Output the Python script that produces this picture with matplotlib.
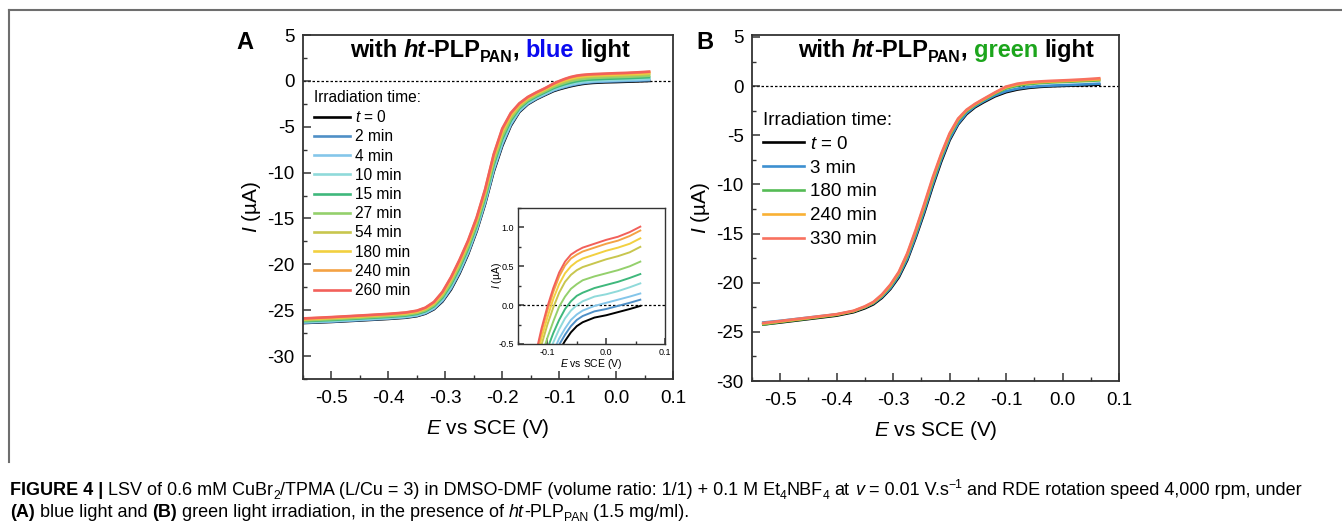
import matplotlib
matplotlib.use('Agg')
import matplotlib.pyplot as plt
from matplotlib.transforms import IdentityTransform
from matplotlib.lines import Line2D
from matplotlib.ticker import MultipleLocator
from matplotlib import font_manager

plt.rcParams['font.family'] = ['Liberation Sans', 'DejaVu Sans']
plt.rcParams['mathtext.fontset'] = 'custom'
plt.rcParams['mathtext.rm'] = 'Liberation Sans'
plt.rcParams['mathtext.it'] = 'Liberation Sans:italic'
plt.rcParams['mathtext.bf'] = 'Liberation Sans:bold'
plt.rcParams['axes.unicode_minus'] = False

# ---- panel A: blue light ----
E_A = [-0.55, -0.50, -0.45, -0.40, -0.37, -0.35, -0.335, -0.32, -0.305, -0.29, -0.275, -0.26,
       -0.245, -0.23, -0.215, -0.20, -0.185, -0.17, -0.155, -0.14, -0.125, -0.11, -0.10, -0.09,
       -0.08, -0.07, -0.06, -0.05, -0.04, -0.02, 0.00, 0.02, 0.04, 0.058]
labels_A = ['$t$ = 0', '2 min', '4 min', '10 min', '15 min', '27 min', '54 min',
            '180 min', '240 min', '260 min']
colors_A = ['#000000', '#4f8fc6', '#84c6ea', '#8fdada', '#3fb87c', '#94d06c', '#c8c64e',
            '#f2d040', '#f4a244', '#f2605a']
I_t0 = [-26.40, -26.28, -26.12, -25.95, -25.82, -25.65, -25.38, -24.90, -24.05, -22.75, -21.00, -18.90,
        -16.40, -13.40, -9.90, -7.10, -4.90, -3.40, -2.55, -2.00, -1.55, -1.12, -0.92, -0.75,
        -0.59, -0.46, -0.35, -0.27, -0.22, -0.16, -0.13, -0.09, -0.05, -0.01]
I_2 = [-26.36, -26.24, -26.08, -25.91, -25.77, -25.60, -25.33, -24.84, -23.97, -22.64, -20.88, -18.78,
       -16.28, -13.27, -9.75, -6.95, -4.79, -3.32, -2.49, -1.94, -1.49, -1.05, -0.85, -0.67,
       -0.51, -0.38, -0.27, -0.19, -0.14, -0.08, -0.05, -0.01, 0.03, 0.07]
I_4 = [-26.32, -26.20, -26.03, -25.86, -25.73, -25.55, -25.27, -24.77, -23.88, -22.53, -20.76, -18.66,
       -16.16, -13.14, -9.60, -6.80, -4.68, -3.25, -2.42, -1.88, -1.43, -0.99, -0.78, -0.60,
       -0.43, -0.30, -0.19, -0.12, -0.07, -0.01, 0.03, 0.07, 0.11, 0.15]
I_10 = [-26.26, -26.13, -25.97, -25.80, -25.66, -25.48, -25.20, -24.68, -23.76, -22.37, -20.58, -18.48,
        -15.98, -12.95, -9.37, -6.57, -4.51, -3.13, -2.33, -1.79, -1.34, -0.89, -0.67, -0.48,
        -0.31, -0.17, -0.07, 0.00, 0.05, 0.11, 0.14, 0.18, 0.23, 0.28]
I_15 = [-26.20, -26.07, -25.90, -25.73, -25.59, -25.41, -25.12, -24.58, -23.63, -22.21, -20.40, -18.30,
        -15.80, -12.76, -9.14, -6.34, -4.34, -3.02, -2.23, -1.70, -1.25, -0.79, -0.56, -0.36,
        -0.19, -0.05, 0.05, 0.12, 0.16, 0.22, 0.26, 0.30, 0.35, 0.40]
I_27 = [-26.12, -25.98, -25.82, -25.64, -25.50, -25.31, -25.01, -24.45, -23.46, -21.99, -20.16, -18.06,
        -15.56, -12.50, -8.84, -6.04, -4.12, -2.87, -2.10, -1.58, -1.13, -0.66, -0.42, -0.21,
        -0.02, 0.11, 0.21, 0.27, 0.32, 0.37, 0.41, 0.45, 0.50, 0.56]
I_54 = [-26.03, -25.89, -25.72, -25.54, -25.40, -25.21, -24.89, -24.31, -23.27, -21.75, -19.89, -17.79,
        -15.29, -12.22, -8.49, -5.69, -3.86, -2.70, -1.96, -1.45, -0.99, -0.51, -0.25, -0.03,
        0.16, 0.30, 0.39, 0.45, 0.49, 0.54, 0.59, 0.63, 0.68, 0.75]
I_180 = [-25.98, -25.83, -25.66, -25.48, -25.34, -25.14, -24.82, -24.22, -23.16, -21.60, -19.73, -17.63,
         -15.13, -12.04, -8.29, -5.49, -3.71, -2.59, -1.87, -1.36, -0.91, -0.42, -0.16, 0.08,
         0.27, 0.41, 0.50, 0.56, 0.60, 0.65, 0.70, 0.74, 0.79, 0.86]
I_240 = [-25.93, -25.78, -25.61, -25.43, -25.28, -25.08, -24.75, -24.14, -23.05, -21.47, -19.58, -17.48,
         -14.98, -11.88, -8.10, -5.30, -3.57, -2.50, -1.79, -1.29, -0.84, -0.34, -0.07, 0.17,
         0.37, 0.51, 0.60, 0.65, 0.69, 0.74, 0.79, 0.83, 0.89, 0.96]
I_260 = [-25.90, -25.75, -25.58, -25.40, -25.25, -25.05, -24.72, -24.10, -23.00, -21.40, -19.50, -17.40,
         -14.90, -11.80, -8.00, -5.20, -3.50, -2.45, -1.75, -1.25, -0.80, -0.30, -0.02, 0.22,
         0.42, 0.56, 0.65, 0.70, 0.74, 0.79, 0.84, 0.88, 0.94, 1.01]
curves_A = [I_t0, I_2, I_4, I_10, I_15, I_27, I_54, I_180, I_240, I_260]

# ---- panel B: green light ----
E_B = [-0.53, -0.50, -0.45, -0.40, -0.37, -0.35, -0.335, -0.32, -0.305, -0.29, -0.275, -0.26,
       -0.245, -0.23, -0.215, -0.20, -0.185, -0.17, -0.155, -0.14, -0.12, -0.10, -0.08, -0.06,
       -0.04, -0.02, 0.01, 0.04, 0.065]
labels_B = ['$t$ = 0', '3 min', '180 min', '240 min', '330 min']
colors_B = ['#000000', '#3d8fd0', '#55bb55', '#f9b134', '#f8715f']
J_t0 = [-24.25, -24.05, -23.70, -23.35, -23.00, -22.60, -22.20, -21.55, -20.65, -19.45, -17.70, -15.40,
        -12.90, -10.20, -7.70, -5.50, -3.90, -2.85, -2.15, -1.65, -1.05, -0.62, -0.35, -0.18,
        -0.08, -0.02, 0.04, 0.09, 0.15]
J_3 = [-24.05, -23.88, -23.55, -23.22, -22.90, -22.50, -22.10, -21.45, -20.55, -19.30, -17.55, -15.25,
       -12.70, -10.00, -7.50, -5.35, -3.80, -2.75, -2.05, -1.55, -0.95, -0.52, -0.26, -0.10,
       -0.01, 0.05, 0.11, 0.18, 0.25]
J_180 = [-24.25, -24.00, -23.65, -23.28, -22.92, -22.48, -22.05, -21.35, -20.38, -19.10, -17.25, -14.90,
         -12.35, -9.65, -7.20, -5.05, -3.50, -2.55, -1.92, -1.42, -0.78, -0.25, 0.04, 0.20,
         0.30, 0.37, 0.44, 0.51, 0.58]
J_240 = [-24.15, -23.95, -23.60, -23.24, -22.88, -22.44, -22.00, -21.28, -20.28, -18.98, -17.10, -14.72,
         -12.15, -9.45, -7.02, -4.90, -3.38, -2.46, -1.85, -1.35, -0.70, -0.13, 0.16, 0.31,
         0.40, 0.46, 0.53, 0.61, 0.68]
J_330 = [-24.10, -23.90, -23.55, -23.20, -22.85, -22.40, -21.95, -21.20, -20.20, -18.90, -17.00, -14.60,
         -12.00, -9.30, -6.90, -4.80, -3.30, -2.40, -1.80, -1.30, -0.65, -0.05, 0.25, 0.40,
         0.48, 0.54, 0.61, 0.70, 0.80]
curves_B = [J_t0, J_3, J_180, J_240, J_330]

W, H = 1342, 527
fig = plt.figure(figsize=(W / 100, H / 100), dpi=100)


def px_axes(x0, y0, x1, y1):
    # pixel box (top-left origin) -> figure fraction rect
    return [x0 / W, 1 - y1 / H, (x1 - x0) / W, (y1 - y0) / H]


def style_axes(ax, major, minor, lsize, major_len=6, minor_len=3, xpad=8, ypad=6):
    for s in ax.spines.values():
        s.set_color('#333333')
        s.set_linewidth(1.3)
    ax.tick_params(which='both', direction='in', top=False, right=False, colors='#333333',
                   labelcolor='black', labelsize=lsize)
    ax.tick_params(which='major', length=major_len, width=1.1)
    ax.tick_params(which='minor', length=minor_len, width=1.0)
    ax.tick_params(axis='x', which='major', pad=xpad)
    ax.tick_params(axis='y', which='major', pad=ypad)
    ax.xaxis.set_major_locator(MultipleLocator(major[0]))
    ax.xaxis.set_minor_locator(MultipleLocator(minor[0]))
    ax.yaxis.set_major_locator(MultipleLocator(major[1]))
    ax.yaxis.set_minor_locator(MultipleLocator(minor[1]))


axA = fig.add_axes(px_axes(303, 35, 673, 379))
axB = fig.add_axes(px_axes(752, 35, 1119, 381))
axI = fig.add_axes(px_axes(518, 208, 665, 344))

for vals, c, lab in zip(curves_A, colors_A, labels_A):
    axA.plot(E_A, vals, color=c, lw=1.9, label=lab)
    axI.plot(E_A, vals, color=c, lw=1.4)
for vals, c, lab in zip(curves_B, colors_B, labels_B):
    axB.plot(E_B, vals, color=c, lw=1.9, label=lab)

for ax in (axA, axB, axI):
    ax.axhline(0, color='black', lw=0.9, ls=(0, (2, 1.6)), zorder=0)

axA.set_xlim(-0.55, 0.1)
axA.set_ylim(-32.5, 5)
axB.set_xlim(-0.55, 0.1)
axB.set_ylim(-30, 5.2)
axI.set_xlim(-0.15, 0.1)
axI.set_ylim(-0.5, 1.25)

style_axes(axA, (0.1, 5), (0.05, 2.5), 13.5)
style_axes(axB, (0.1, 5), (0.05, 2.5), 13.5)
style_axes(axI, (0.1, 0.5), (0.05, 0.25), 6.5, major_len=4, minor_len=2, xpad=3, ypad=3)
for s in axI.spines.values():
    s.set_linewidth(1.0)

for ax in (axA, axB):
    ax.set_xlabel('$\\mathit{E}$ vs SCE (V)', fontsize=15, labelpad=7)
    ax.set_ylabel('$\\mathit{I}$ (µA)', fontsize=15)
axA.yaxis.set_label_coords(-0.108, 0.5)
axB.yaxis.set_label_coords(-0.11, 0.5)
axI.set_xlabel('$\\mathit{E}$ vs SCE (V)', fontsize=7.5, labelpad=0)
axI.set_ylabel('$\\mathit{I}$ (µA)', fontsize=7.5, labelpad=-4)

legA = axA.legend(title='Irradiation time:', loc='upper left', bbox_to_anchor=(0.03, 0.84),
                  frameon=False, fontsize=11.2, title_fontsize=11.2, handlelength=2.3,
                  handletextpad=0.3, labelspacing=0.27, borderpad=0, borderaxespad=0,
                  alignment='left')
legB = axB.legend(title='Irradiation time:', loc='upper left', bbox_to_anchor=(0.03, 0.778),
                  frameon=False, fontsize=13.5, title_fontsize=13.5, handlelength=2.2,
                  handletextpad=0.3, labelspacing=0.36, borderpad=0, borderaxespad=0,
                  alignment='left')

renderer = fig.canvas.get_renderer()


def rich(x, y, parts, size, family):
    # draw text pieces side by side on one baseline (pixel coords, origin bottom-left)
    em = size * fig.dpi / 72
    sp = 0.278 * em
    arts = []
    for text, flags, color in parts:
        small = '_' in flags or '^' in flags
        dy = -0.2 * em if '_' in flags else (0.38 * em if '^' in flags else 0)
        lead = len(text) - len(text.lstrip(' '))
        trail = len(text) - len(text.rstrip(' '))
        x += lead * sp
        t = fig.text(x, y + dy, text.strip(' '), transform=IdentityTransform(),
                     ha='left', va='baseline', fontsize=size * 0.68 if small else size,
                     family=family, color=color,
                     fontweight='bold' if 'b' in flags else 'normal',
                     fontstyle='italic' if 'i' in flags else 'normal')
        x = t.get_window_extent(renderer).x1 + trail * sp
        arts.append(t)
    return arts, x


title_A = [('with ', 'b', 'k'), ('ht', 'bi', 'k'), ('-PLP', 'b', 'k'), ('PAN', 'b_', 'k'),
           (', ', 'b', 'k'), ('blue', 'b', '#0a0af0'), (' light', 'b', 'k')]
title_B = [('with ', 'b', 'k'), ('ht', 'bi', 'k'), ('-PLP', 'b', 'k'), ('PAN', 'b_', 'k'),
           (', ', 'b', 'k'), ('green', 'b', '#1ca51c'), (' light', 'b', 'k')]
rich(350, H - 57, title_A, 17, 'Liberation Sans')
rich(798, H - 57, title_B, 17, 'Liberation Sans')

fig.text(245, H - 49, 'A', transform=IdentityTransform(), ha='center', va='baseline',
         fontsize=17, fontweight='bold')
fig.text(705, H - 49, 'B', transform=IdentityTransform(), ha='center', va='baseline',
         fontsize=17, fontweight='bold')

# frame lines around the figure panel
fig.add_artist(Line2D([9, W], [H - 10, H - 10], transform=IdentityTransform(), color='#6e6e6e', lw=1.5))
fig.add_artist(Line2D([9, 9], [H - 10, H - 462], transform=IdentityTransform(), color='#6e6e6e', lw=1.5))

# caption
names = {f.name for f in font_manager.fontManager.ttflist}
cap_family = 'Liberation Sans Narrow' if 'Liberation Sans Narrow' in names else 'Liberation Sans'
cap1 = [('FIGURE 4 |', 'b', 'k'), (' LSV of 0.6 mM CuBr', '', 'k'), ('2', '_', 'k'),
        ('/TPMA (L/Cu = 3) in DMSO-DMF (volume ratio: 1/1) + 0.1 M Et', '', 'k'), ('4', '_', 'k'),
        ('NBF', '', 'k'), ('4', '_', 'k'), (' at ', '', 'k'), ('v', 'i', 'k'), (' = 0.01 V.s', '', 'k'),
        ('\u22121', '^', 'k'), (' and RDE rotation speed 4,000 rpm, under', '', 'k')]
cap2 = [('(A)', 'b', 'k'), (' blue light and ', '', 'k'), ('(B)', 'b', 'k'),
        (' green light irradiation, in the presence of ', '', 'k'), ('ht', 'i', 'k'),
        ('-PLP', '', 'k'), ('PAN', '_', 'k'), (' (1.5 mg/ml).', '', 'k')]
arts, xend = rich(10, H - 495, cap1, 10, cap_family)
cap_size = 10 * (1300 - 10) / (xend - 10)
for a in arts:
    a.remove()
rich(10, H - 495, cap1, cap_size, cap_family)
rich(10, H - 517, cap2, cap_size, cap_family)

fig.savefig('out.png', dpi=100)
